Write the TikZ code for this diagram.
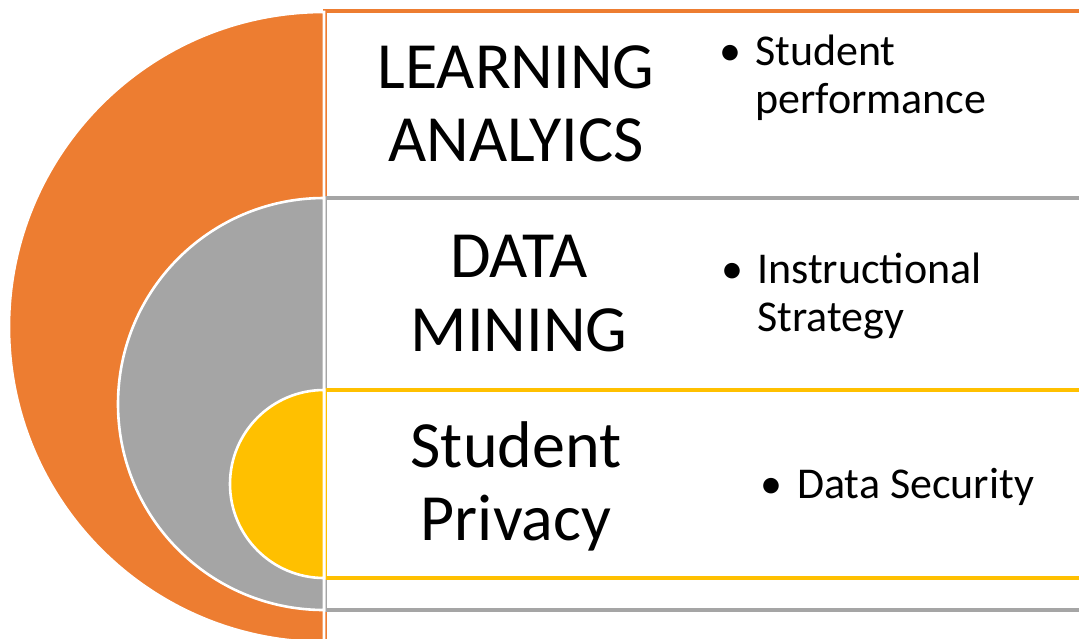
\documentclass[tikz,border=0pt]{standalone}
\usepackage{fontspec}
\setmainfont{Carlito}
\definecolor{accOrange}{HTML}{ED7D31}
\definecolor{accGray}{HTML}{A5A5A5}
\definecolor{accGold}{HTML}{FFC000}
\begin{document}
\begin{tikzpicture}[x=1pt,y=-1pt,
  band/.style={draw=#1,fill=white,line width=3.2pt},
  halfdisk/.style={fill=#1,draw=white,line width=2.6pt},
  head/.style={anchor=base,inner sep=0pt,font=\fontsize{66}{73}\selectfont},
  item/.style={anchor=base west,inner sep=0pt,font=\fontsize{44}{48}\selectfont},
  dot/.style={anchor=base west,inner sep=0pt,font=\fontsize{44}{48}\selectfont}]
\useasboundingbox (0,0) rectangle (1079,638);
\begin{scope}
\clip (0,0) rectangle (1079,638);
% outer, middle and inner bands
\draw[band=accOrange] (325,11) rectangle (1095,660);
\draw[band=accGray]   (325,198) rectangle (1095,610);
\draw[band=accGold]   (325,390) rectangle (1095,578);
% nested half disks
\draw[halfdisk=accOrange] (324,12) arc[start angle=90,end angle=270,radius=315pt] -- cycle;
\draw[halfdisk=accGray]   (324,198) arc[start angle=90,end angle=270,radius=206pt] -- cycle;
\draw[halfdisk=accGold]   (324,390) arc[start angle=90,end angle=270,radius=94pt] -- cycle;
\end{scope}
% headings
\node[head] (la1) at (516,88)  {LEARNING};
\node[head] (la2) at (516,161) {ANALYICS};
\node[head] (dm1) at (519,277) {DATA};
\node[head] (dm2) at (519,351) {MINING};
\node[head] (sp1) at (516,467) {Student};
\node[head] (sp2) at (516,540) {Privacy};
% bullet items
\node[dot]  (b1)  at (719,65)  {•};
\node[item] (t1a) at (755,65)  {Student};
\node[item] (t1b) at (755,113) {performance};
\node[dot]  (b2)  at (721,283) {•};
\node[item] (t2a) at (757,283) {Instructional};
\node[item] (t2b) at (757,331) {Strategy};
\node[dot]  (b3)  at (760,498) {•};
\node[item] (t3a) at (797,498) {Data Security};
\end{tikzpicture}
\end{document}
